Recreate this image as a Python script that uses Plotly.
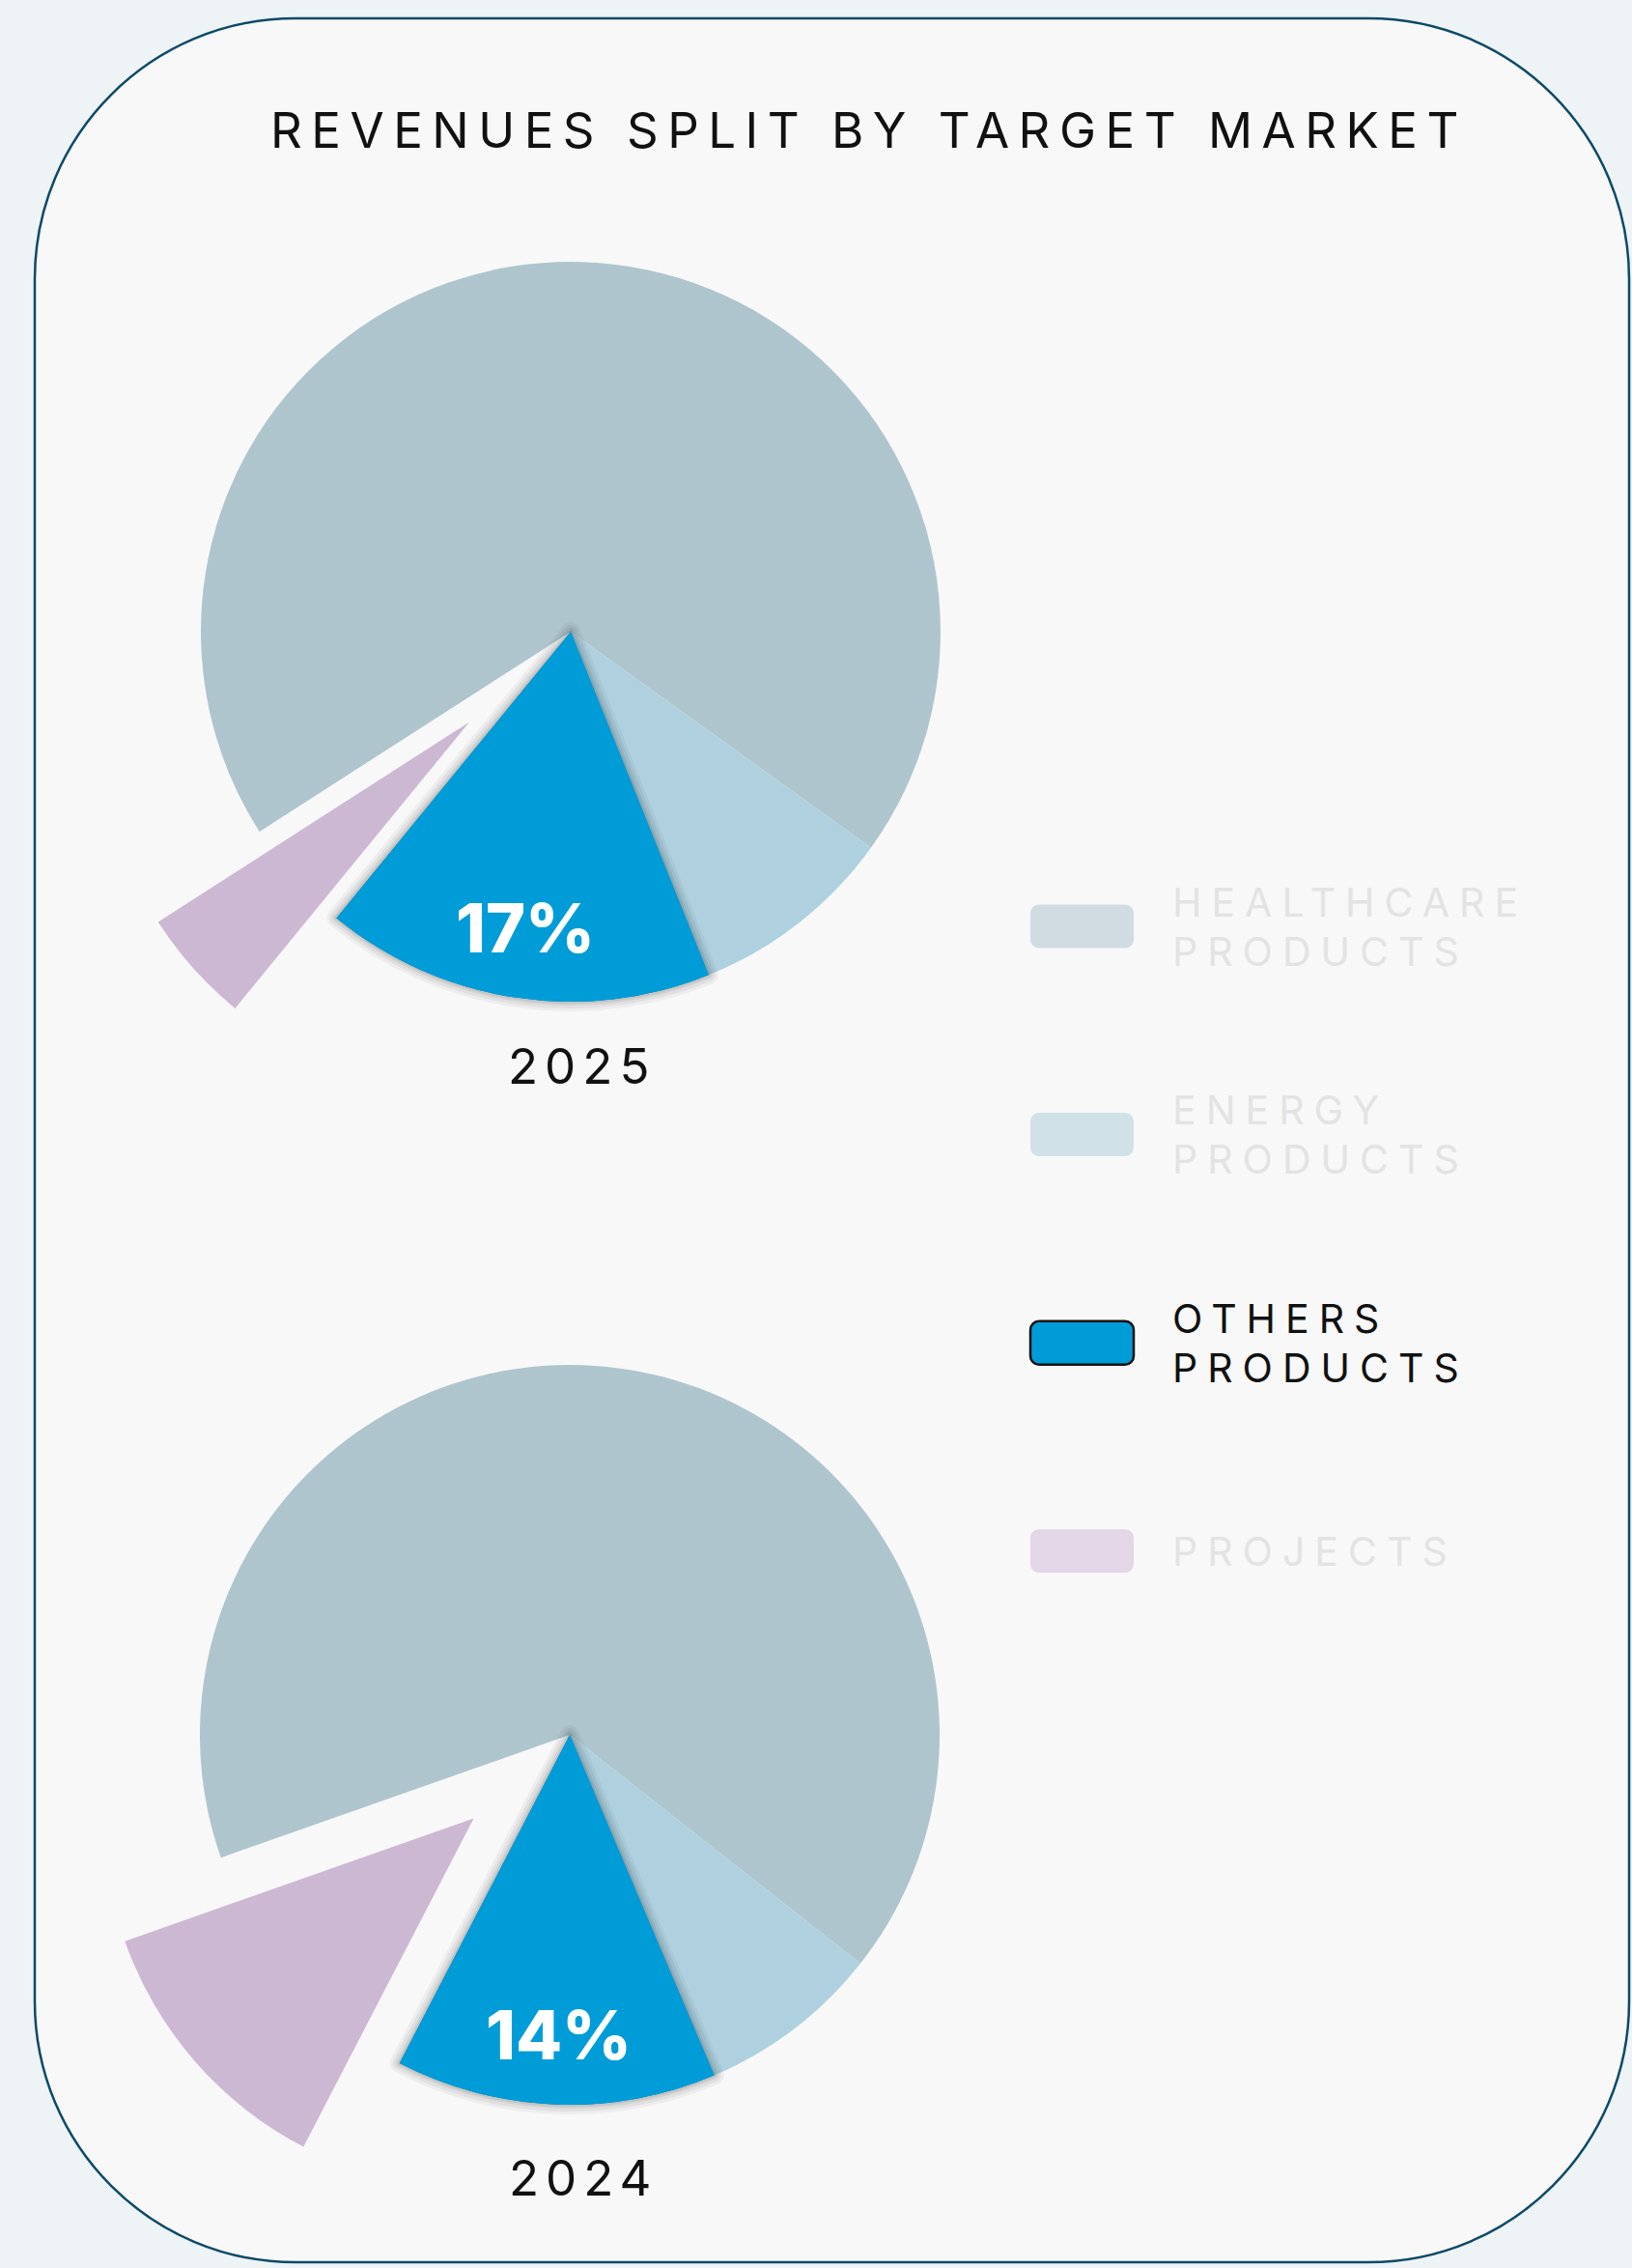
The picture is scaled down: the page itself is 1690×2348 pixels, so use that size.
import math
import plotly.graph_objects as go

# Canvas size in pixels
W, H = 1690, 2348

# ---- data -------------------------------------------------------------
CATEGORIES = ["HEALTHCARE PRODUCTS", "ENERGY PRODUCTS", "OTHERS PRODUCTS", "PROJECTS"]
YEARS = ["2025", "2024"]
SHARE_2025 = [69, 9, 17, 5]
SHARE_2024 = [66, 8, 14, 12]
SHARES = [SHARE_2025, SHARE_2024]

TITLE = "REVENUES SPLIT BY TARGET MARKET"
FOCUS = 2       # category that is highlighted (labelled slice, active legend entry)
EXPLODED = 3    # category whose slice is pulled out of the pie

# ---- styling ----------------------------------------------------------
SLICE_COLORS = ["#afc5cd", "#afd1df", "#009cd8", "#cdb8d4"]
SWATCH_COLORS = ["#d1dce2", "#d0e2e8", "#009cd8", "#e2d6e7"]
LEGEND_TEXT_COLORS = ["#e3e3e3", "#e3e3e3", "#111111", "#e3e3e3"]
CLEAR = "rgba(0,0,0,0)"
FONT = "Inter, 'Open Sans', sans-serif"

PAGE_BG = "#eef3f6"
CARD_BG = "#f8f8f8"
CARD_EDGE = "#0c4a68"

# pie placement (pixels), rotation (deg clockwise from 12 o'clock) and explode amount
RADIUS = 383
PIE_LAYOUT = [
    dict(cx=591, cy=654, rotation=237.3, pull=0.367, year_x=602, year_y=1104),
    dict(cx=590, cy=1796, rotation=250.6, pull=0.344, year_x=604, year_y=2254),
]


def px(x):
    return x / W


def py(y):
    return 1 - y / H


def rounded_rect_path(x0, y0, x1, y1, r):
    """SVG path (paper coordinates) for a rectangle with circular corners."""
    k = 0.5523 * r
    pts = [
        ("M", [(x0 + r, y0)]),
        ("L", [(x1 - r, y0)]),
        ("C", [(x1 - r + k, y0), (x1, y0 + r - k), (x1, y0 + r)]),
        ("L", [(x1, y1 - r)]),
        ("C", [(x1, y1 - r + k), (x1 - r + k, y1), (x1 - r, y1)]),
        ("L", [(x0 + r, y1)]),
        ("C", [(x0 + r - k, y1), (x0, y1 - r + k), (x0, y1 - r)]),
        ("L", [(x0, y0 + r)]),
        ("C", [(x0, y0 + r - k), (x0 + r - k, y0), (x0 + r, y0)]),
    ]
    out = []
    for cmd, coords in pts:
        out.append(cmd + " ".join(f"{px(a):.6f},{py(b):.6f}" for a, b in coords))
    return " ".join(out) + " Z"


def spaced(text, spacing):
    return f"<span style='letter-spacing:{spacing}px'>{text}</span>"


fig = go.Figure()

annotations = []
shapes = []

# card behind everything
shapes.append(dict(
    type="path", xref="paper", yref="paper", layer="below",
    path=rounded_rect_path(36, 19, 1687, 2342, 270),
    fillcolor=CARD_BG, line=dict(color=CARD_EDGE, width=2.5),
))

for values, year, geo in zip(SHARES, YEARS, PIE_LAYOUT):
    half = RADIUS * (1 + geo["pull"])
    domain = dict(
        x=[px(geo["cx"] - half), px(geo["cx"] + half)],
        y=[py(geo["cy"] + half), py(geo["cy"] - half)],
    )
    pulls = [geo["pull"] if i == EXPLODED else 0 for i in range(len(values))]
    common = dict(
        labels=CATEGORIES, values=values, sort=False, direction="clockwise",
        rotation=geo["rotation"], pull=pulls, domain=domain,
        textinfo="none", showlegend=False,
    )

    # full pie
    fig.add_trace(go.Pie(
        marker=dict(colors=SLICE_COLORS, line=dict(width=0)),
        hovertemplate="%{label}<br>" + year + ": %{percent}<extra></extra>",
        **common,
    ))

    # soft drop shadow around the highlighted slice
    for width, alpha in [(20, 0.045), (14, 0.05), (8, 0.06), (4, 0.07)]:
        fig.add_trace(go.Pie(
            marker=dict(
                colors=[CLEAR] * len(values),
                line=dict(
                    width=[width if i == FOCUS else 0 for i in range(len(values))],
                    color=f"rgba(0,0,0,{alpha})",
                ),
            ),
            hoverinfo="skip",
            **common,
        ))

    # highlighted slice redrawn on top of its shadow
    fig.add_trace(go.Pie(
        marker=dict(
            colors=[SLICE_COLORS[i] if i == FOCUS else CLEAR for i in range(len(values))],
            line=dict(width=0),
        ),
        hoverinfo="skip",
        **common,
    ))

    # percentage label on the highlighted slice
    total = sum(values)
    before = sum(values[:FOCUS])
    mid = math.radians(geo["rotation"] + (before + values[FOCUS] / 2) / total * 360)
    lx = geo["cx"] + 0.81 * RADIUS * math.sin(mid)
    ly = geo["cy"] - 0.81 * RADIUS * math.cos(mid)
    annotations.append(dict(
        x=px(lx), y=py(ly), xref="paper", yref="paper",
        xanchor="center", yanchor="middle", showarrow=False,
        text=f"{round(values[FOCUS] / total * 100)}%",
        font=dict(family=FONT, size=70, color="#ffffff", weight=800),
    ))

    # year caption under each pie
    annotations.append(dict(
        x=px(geo["year_x"]), y=py(geo["year_y"]), xref="paper", yref="paper",
        xanchor="center", yanchor="middle", showarrow=False,
        text=spaced(year, 7),
        font=dict(family=FONT, size=51, color="#111111", weight=400),
    ))

# title
annotations.append(dict(
    x=px(900), y=py(135), xref="paper", yref="paper",
    xanchor="center", yanchor="middle", showarrow=False,
    text=spaced(TITLE, 9.5),
    font=dict(family=FONT, size=51, color="#111111", weight=400),
))

# legend: rounded swatches with two-line uppercase labels
LEG_Y0, LEG_STEP = 959, 215.6
for i, name in enumerate(CATEGORIES):
    yc = LEG_Y0 + i * LEG_STEP
    shapes.append(dict(
        type="path", xref="paper", yref="paper", layer="above",
        path=rounded_rect_path(1067, yc - 22.5, 1174, yc + 22.5, 9),
        fillcolor=SWATCH_COLORS[i],
        line=dict(color="#111111" if i == FOCUS else CLEAR, width=2.5 if i == FOCUS else 0),
    ))
    lines = name.split(" ")
    offsets = [0] if len(lines) == 1 else [-25.5, 25.5]
    for line, dy in zip(lines, offsets):
        annotations.append(dict(
            x=px(1212), y=py(yc + dy), xref="paper", yref="paper",
            xanchor="left", yanchor="middle", showarrow=False,
            text=spaced(line, 10),
            font=dict(family=FONT, size=41, color=LEGEND_TEXT_COLORS[i], weight=400),
        ))

fig.update_layout(
    width=W, height=H,
    margin=dict(l=0, r=0, t=0, b=0),
    paper_bgcolor=PAGE_BG,
    plot_bgcolor=PAGE_BG,
    showlegend=False,
    shapes=shapes,
    annotations=annotations,
)

fig.write_html("out.html", config={"displayModeBar": False})
